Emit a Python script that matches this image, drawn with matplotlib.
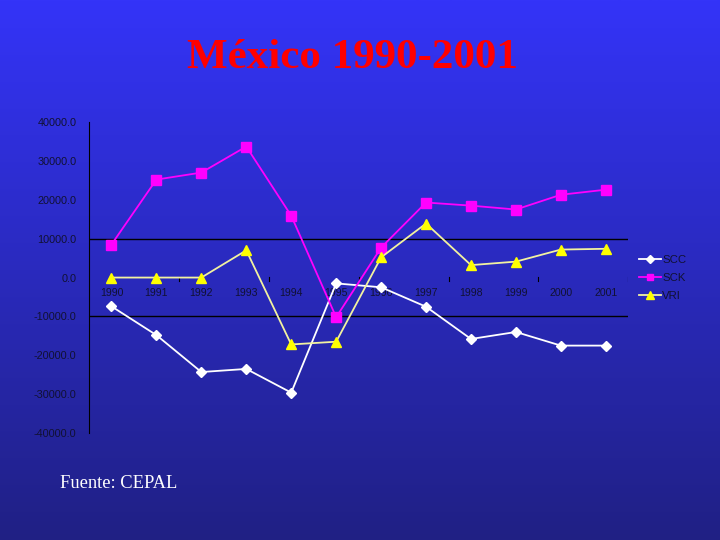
import numpy as np
import matplotlib.pyplot as plt

years = ["1990", "1991", "1992", "1993", "1994", "1995",
         "1996", "1997", "1998", "1999", "2000", "2001"]
scc = [-7400, -14800, -24300, -23500, -29600, -1500,
       -2500, -7500, -15800, -14000, -17500, -17500]
sck = [8500, 25200, 27000, 33700, 15900, -10200,
       7700, 19300, 18500, 17500, 21300, 22600]
vri = [0, 0, 0, 7000, -17200, -16500,
       5200, 13900, 3200, 4100, 7200, 7400]
y_ticks = [40000, 30000, 20000, 10000, 0, -10000, -20000, -30000, -40000]

fig = plt.figure(figsize=(7.2, 5.4), dpi=100)

# gradient background
bg = fig.add_axes([0, 0, 1, 1], zorder=0)
top = np.array([52, 52, 248]) / 255
bottom = np.array([32, 32, 132]) / 255
t = np.linspace(0, 1, 256)[:, None]
grad = (top * (1 - t) + bottom * t)[:, None, :]
bg.imshow(grad, aspect="auto", extent=[0, 1, 0, 1])
bg.axis("off")

ax = fig.add_axes([0.1236, 0.198, 0.749, 0.576], zorder=1)
ax.patch.set_alpha(0)
x = np.arange(len(years))

# category labels and tick marks along the zero line (behind the lines)
for i, yr in enumerate(years):
    ax.text(i, -3900, yr, ha="center", va="center", fontsize=7.6,
            color="#111133", family="Liberation Sans", zorder=1)
for b in np.arange(1.5, len(years), 2):
    ax.plot([b, b], [-1000, 200], color="black", lw=0.8, zorder=1)

ax.plot(x, scc, color="white", marker="D", markersize=5, lw=1.3, label="SCC", zorder=3)
ax.plot(x, sck, color="#ff00ff", marker="s", markersize=6.5, lw=1.3, label="SCK", zorder=3)
ax.plot(x, vri, color="#f2f2a0", marker="^", markersize=7.5, lw=1.3,
        markerfacecolor="#ffff00", markeredgecolor="#ffff00", label="VRI", zorder=3)

ax.set_xlim(-0.5, len(years) - 0.5)
ax.set_ylim(-40000, 40000)
ax.set_yticks(y_ticks)
ax.set_yticklabels([f"{v:.1f}" for v in y_ticks], fontsize=7.8, color="#111133",
                   family="Liberation Sans")
ax.tick_params(axis="y", length=0, pad=9)
ax.set_xticks([])

for g in (10000, -10000):
    ax.axhline(g, color="black", lw=1, zorder=2)

for s in ("top", "right", "bottom"):
    ax.spines[s].set_visible(False)
ax.spines["left"].set_color("black")

leg = ax.legend(loc="center left", bbox_to_anchor=(1.0, 0.5), frameon=False,
                handlelength=2.0, labelspacing=0.7, handletextpad=0.1,
                markerscale=0.75, prop={"family": "Liberation Sans", "size": 8.2})
for txt in leg.get_texts():
    txt.set_color("#111133")

fig.text(0.489, 0.892, "México 1990-2001", ha="center", va="center",
         fontsize=31, color="red", fontweight="bold", family="Liberation Serif")
fig.text(0.083, 0.105, "Fuente: CEPAL", ha="left", va="center",
         fontsize=13.3, color="white", family="Liberation Serif")

fig.savefig("out.png", dpi=100)
